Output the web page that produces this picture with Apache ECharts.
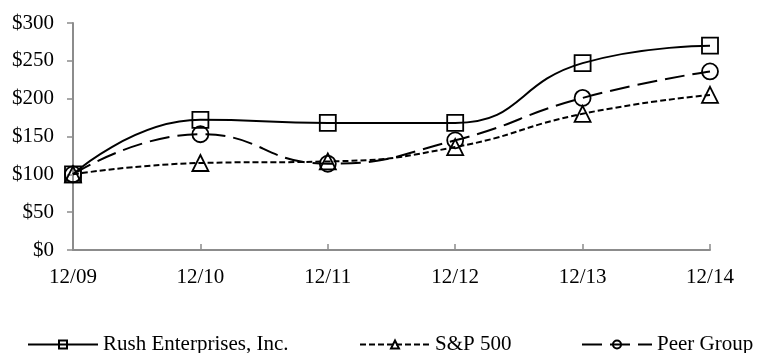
<!DOCTYPE html>
<html>
<head>
<meta charset="utf-8">
<script src="https://cdn.jsdelivr.net/npm/echarts@6/dist/echarts.min.js"></script>
<style>
  html, body { margin: 0; padding: 0; background: #fff; }
  #chart { width: 757px; height: 353px; }
</style>
</head>
<body>
<div id="chart"></div>
<script>
// Cumulative total return, $100 invested at 12/09
const periods = ['12/09', '12/10', '12/11', '12/12', '12/13', '12/14'];
const rushValues = [100, 172, 168, 168, 247, 270];
const spValues = [100, 115, 117, 136, 180, 205];
const peerValues = [100, 153, 114, 145, 201, 236];
const yTicks = [0, 50, 100, 150, 200, 250, 300];

const FONT = '"Liberation Serif", "Times New Roman", serif';
const FONT_SIZE = 21;
const AXIS_GRAY = '#8c8c8c';

const chart = echarts.init(document.getElementById('chart'), null, { renderer: 'canvas' });

function lineSeries(name, data, symbol, size, dash) {
  return {
    name: name,
    type: 'line',
    data: data,
    smooth: 0.5,
    symbol: symbol,
    symbolSize: size,
    showAllSymbol: true,
    lineStyle: { color: '#000', width: 2, type: dash },
    itemStyle: { color: 'rgba(0,0,0,0)', borderColor: '#000', borderWidth: 1.8 },
    emphasis: { disabled: true },
    z: 3
  };
}

const legendBase = {
  top: 329,
  itemWidth: 70,
  itemHeight: 10,
  textStyle: { fontFamily: FONT, fontSize: FONT_SIZE, color: '#000' },
  selectedMode: false
};

chart.setOption({
  animation: false,
  backgroundColor: '#fff',
  grid: { left: 73, right: 47, top: 23, bottom: 103, containLabel: false },
  xAxis: {
    type: 'category',
    data: periods,
    boundaryGap: false,
    axisLine: { lineStyle: { color: AXIS_GRAY, width: 2 } },
    axisTick: { show: true, inside: true, length: 6, alignWithLabel: true, lineStyle: { color: AXIS_GRAY, width: 1.5 } },
    axisLabel: { fontFamily: FONT, fontSize: FONT_SIZE, color: '#000', margin: 17 },
    splitLine: { show: false }
  },
  yAxis: {
    type: 'value',
    min: yTicks[0],
    max: yTicks[yTicks.length - 1],
    interval: 50,
    axisLine: { show: true, lineStyle: { color: AXIS_GRAY, width: 2 } },
    axisTick: { show: true, length: 6, lineStyle: { color: AXIS_GRAY, width: 1.5 } },
    axisLabel: { fontFamily: FONT, fontSize: FONT_SIZE, color: '#000', margin: 19, formatter: v => '$' + v },
    splitLine: { show: false }
  },
  legend: [
    Object.assign({}, legendBase, { left: 22, data: ['Rush Enterprises, Inc.'] }),
    Object.assign({}, legendBase, { left: 354, data: ['S&P 500'] }),
    Object.assign({}, legendBase, { left: 576, data: ['Peer Group'] })
  ],
  series: [
    lineSeries('Rush Enterprises, Inc.', rushValues, 'rect', 16, 'solid'),
    lineSeries('S&P 500', spValues, 'triangle', 16, [6, 3]),
    lineSeries('Peer Group', peerValues, 'circle', 16, [20, 8])
  ]
});
</script>
</body>
</html>
